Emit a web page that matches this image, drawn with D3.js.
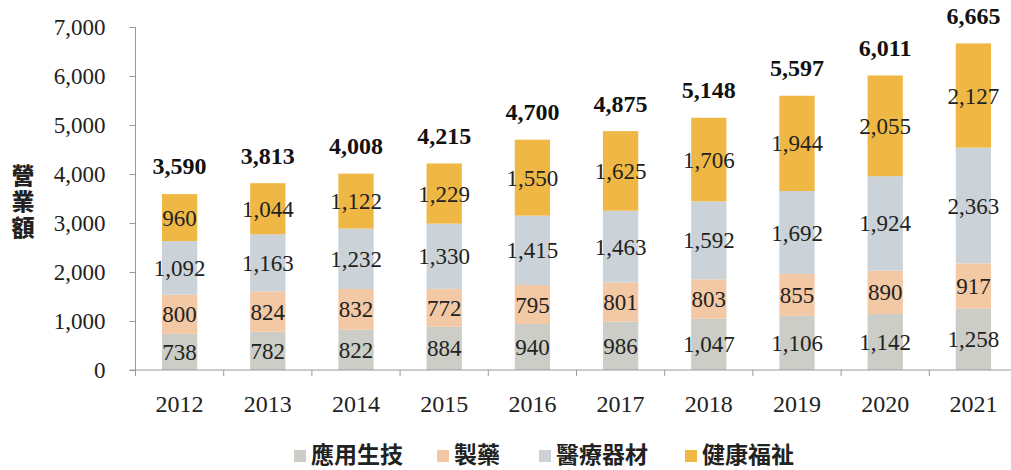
<!DOCTYPE html>
<html><head><meta charset="utf-8">
<script src="https://cdn.jsdelivr.net/npm/d3@7"></script>
<style>html,body{margin:0;padding:0;background:#fff;}</style>
</head><body><svg id="c" width="1011" height="470"></svg>
<script>
const years = ["2012","2013","2014","2015","2016","2017","2018","2019","2020","2021"];
const seriesNames = ["應用生技","製藥","醫療器材","健康福祉"];
const appliedBio = [738,782,822,884,940,986,1047,1106,1142,1258];
const pharma = [800,824,832,772,795,801,803,855,890,917];
const medical = [1092,1163,1232,1330,1415,1463,1592,1692,1924,2363];
const health = [960,1044,1122,1229,1550,1625,1706,1944,2055,2127];
const totals = [3590,3813,4008,4215,4700,4875,5148,5597,6011,6665];
const yTicks = [0,1000,2000,3000,4000,5000,6000,7000];
const colors = ["#cbcdc6","#f3c8a4","#cbd2d8","#efb845"];

const svg = d3.select("#c");
const x0 = 135.5, x1 = 1017.5;
const x = d3.scaleBand().domain(years).range([x0, x1]).paddingInner(0.6).paddingOuter(0.3);
const y = d3.scaleLinear().domain([0,7000]).range([370, 27]);
const fmt = d3.format(",");

const data = years.map((yr,i)=>({year:yr, vals:[appliedBio[i],pharma[i],medical[i],health[i]]}));
const stackData = data.map(d=>{const o={year:d.year}; seriesNames.forEach((s,j)=>o[s]=d.vals[j]); return o;});
const stacked = d3.stack().keys(seriesNames)(stackData);

stacked.forEach((layer,j)=>{
  const g = svg.append("g");
  g.selectAll("rect").data(layer).enter().append("rect")
    .attr("x", d=>x(d.data.year)).attr("width", x.bandwidth())
    .attr("y", d=>y(d[1])).attr("height", d=>y(d[0])-y(d[1]))
    .attr("fill", colors[j]);
  g.selectAll("text").data(layer).enter().append("text")
    .attr("x", d=>x(d.data.year)+x.bandwidth()/2)
    .attr("y", d=>(y(d[0])+y(d[1]))/2)
    .attr("dy","0.35em").attr("text-anchor","middle")
    .attr("font-family","'Liberation Serif', serif").attr("font-size",23)
    .attr("fill","#222").text(d=>fmt(d.data[seriesNames[j]]));
});

svg.append("g").selectAll("text").data(years).enter().append("text")
  .attr("x", (d)=>x(d)+x.bandwidth()/2)
  .attr("y", (d,i)=>y(totals[i])-28)
  .attr("dy","0.35em").attr("text-anchor","middle")
  .attr("font-family","'Liberation Serif', serif").attr("font-size",24).attr("font-weight","bold")
  .attr("fill","#111").text((d,i)=>fmt(totals[i]));

// axes
const axisColor = "#9a9a9a";
const yAxis = svg.append("g").attr("transform",`translate(${x0},0)`)
  .call(d3.axisLeft(y).tickValues(yTicks).tickFormat(fmt).tickSize(6).tickPadding(24));
yAxis.select(".domain").attr("stroke",axisColor).attr("d",`M-0,${y(7000)}V${y(0)}`);
yAxis.selectAll(".tick line").attr("stroke",axisColor);
yAxis.selectAll(".tick text").attr("font-family","'Liberation Serif', serif").attr("font-size",23).attr("fill","#222");

svg.append("line").attr("x1",x0-6).attr("x2",x1).attr("y1",y(0)).attr("y2",y(0)).attr("stroke",axisColor);
const boundaries = d3.range(years.length+1).map(i=>x0 + i*x.step());
svg.append("g").selectAll("line").data(boundaries).enter().append("line")
  .attr("x1",d=>d).attr("x2",d=>d).attr("y1",y(0)).attr("y2",y(0)+6).attr("stroke",axisColor);
svg.append("g").selectAll("text").data(years).enter().append("text")
  .attr("x", d=>x(d)+x.bandwidth()/2).attr("y", 404)
  .attr("dy","0.35em").attr("text-anchor","middle")
  .attr("font-family","'Liberation Serif', serif").attr("font-size",24)
  .attr("fill","#222").text(d=>d);

// y title (vertical, upright characters)
svg.append("text")
  .attr("x",23).attr("y",203)
  .attr("text-anchor","middle")
  .style("writing-mode","vertical-rl")
  .style("letter-spacing","3px")
  .attr("font-family","'Noto Sans CJK TC', sans-serif").attr("font-weight","900").attr("font-size",23)
  .attr("fill","#222").text("營業額");

// legend
const legendX = [294,437,539,685];
const lg = svg.append("g");
seriesNames.forEach((s,j)=>{
  lg.append("rect").attr("x",legendX[j]).attr("y",450).attr("width",12).attr("height",12).attr("fill",colors[j]);
  lg.append("text").attr("x",legendX[j]+17).attr("y",455).attr("dy","0.35em")
    .attr("font-family","'Noto Sans CJK TC', sans-serif").attr("font-weight","bold").attr("font-size",23)
    .attr("fill","#222").text(s);
});
</script></body></html>
